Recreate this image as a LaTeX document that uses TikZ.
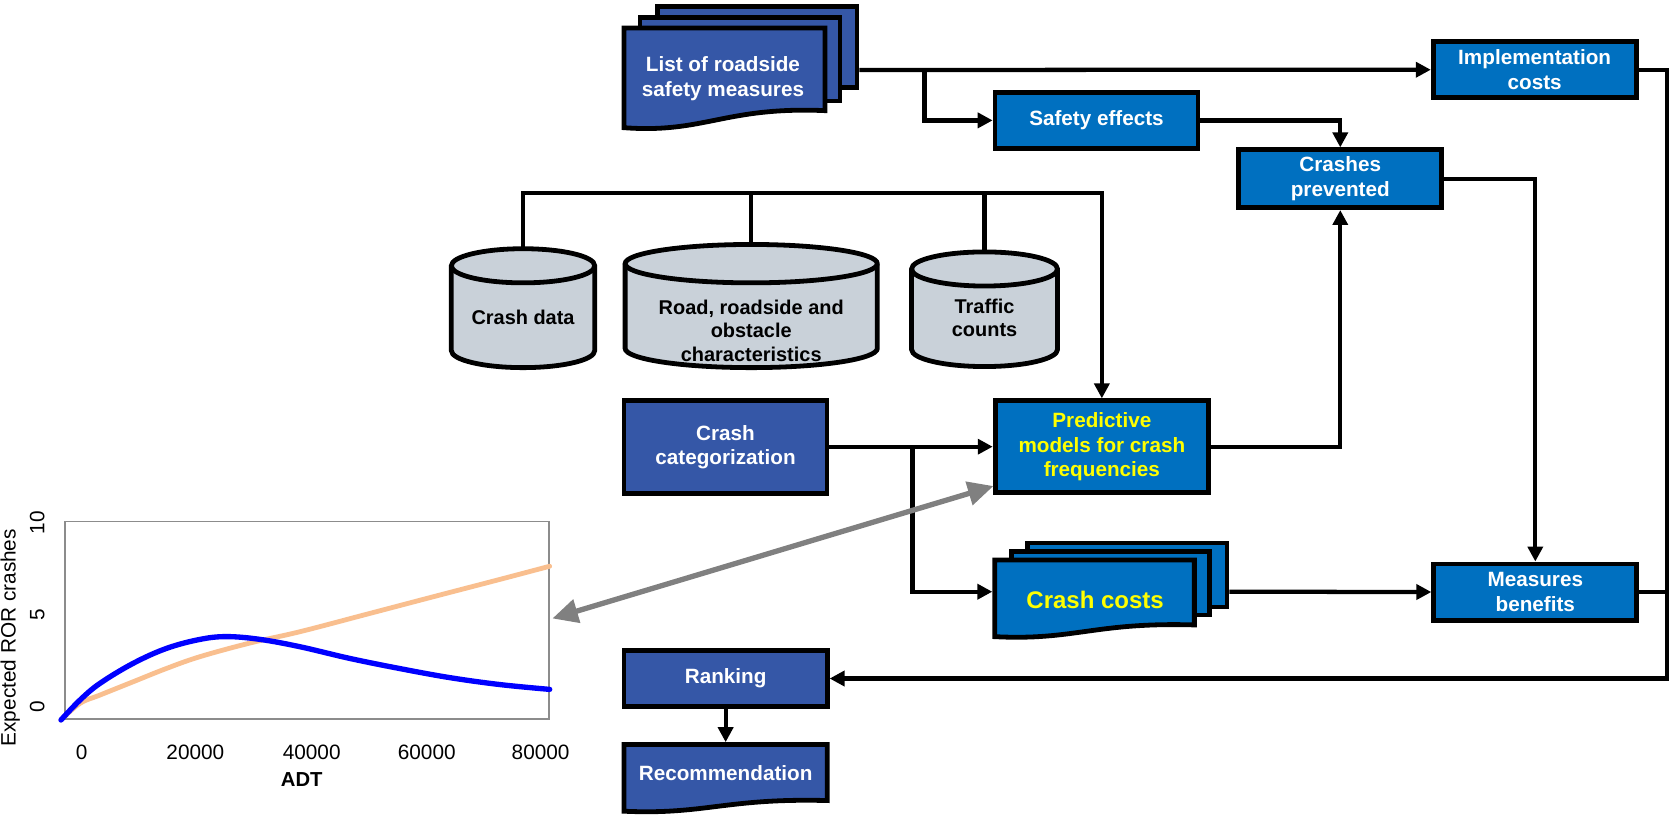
\documentclass[tikz,border=0pt]{standalone}
\usepackage{fontspec}
\setmainfont{Liberation Sans}
\usetikzlibrary{arrows.meta,calc}
\definecolor{db}{HTML}{3557A7}
\definecolor{lb}{HTML}{0070C0}
\definecolor{cylc}{HTML}{C9D1D9}
\definecolor{ylw}{HTML}{FFFF00}
\definecolor{org}{HTML}{F9BF8F}
\definecolor{gry}{HTML}{808080}
\definecolor{chartgray}{HTML}{8C8C8C}
\newcommand\boxfont{\bfseries\fontsize{19.4}{23.2}\selectfont}
\newcommand\cylfont{\bfseries\fontsize{18.7}{22}\selectfont}
\newcommand\lblfont{\fontsize{19.5}{22}\selectfont}
% document shape: fill, l, t, r, b, a (path coordinates)
\newcommand\docshape[6]{%
  \filldraw[shp, fill=#1] (#2,#3) -- (#4,#3) -- (#4,#5)
    .. controls ({#2+0.5*(#4-#2)},{#5-0.25*#6}) and ({#2+0.4*(#4-#2)},{#5+1.35*#6}) .. (#2,{#5+#6}) -- cycle;}
\newcommand\backsheet[5]{%
  \filldraw[shp, fill=#1] (#2,#3) rectangle (#4,#5);}
% cylinder: l, t, r, b, e (path coordinates)
\newcommand\cyl[5]{%
  \filldraw[shp, fill=cylc] (#1,{#2+#5}) -- (#1,{#4-#5})
    arc[start angle=180,end angle=0,x radius={(#3-#1)/2},y radius=#5]
    -- (#3,{#2+#5})
    arc[start angle=0,end angle=-180,x radius={(#3-#1)/2},y radius=#5] -- cycle;
  \draw[shp] (#1,{#2+#5}) arc[start angle=180,end angle=0,x radius={(#3-#1)/2},y radius=#5];}
\begin{document}
\begin{tikzpicture}[x=1pt,y=-1pt,
  shp/.style={line width=4.5pt, draw=black},
  bx/.style={shp, rectangle, inner sep=0pt, align=center, text=white, font=\boxfont},
  txt/.style={align=center, inner sep=0pt, font=\boxfont},
  cyltxt/.style={align=center, inner sep=0pt, font=\cylfont, text=black},
  lbl/.style={inner sep=0pt, font=\lblfont, text=black},
  conn/.style={line width=4pt, draw=black},
  arr/.style={-{Triangle[length=14pt,width=14pt]}},
  garr/.style={line width=5pt, draw=gry, {Triangle[length=24pt,width=22pt]}-{Triangle[length=24pt,width=22pt]}}]
\useasboundingbox (0,0) rectangle (1568,771);

% ---------- list of roadside safety measures (stack)
\backsheet{db}{616.25}{6}{803.75}{81.75}
\backsheet{db}{600.25}{16.25}{787.75}{94.75}
\docshape{db}{585.25}{26.25}{773.75}{103.75}{16}
\node[txt, text=white] (lst) at (678,73.5) {List of roadside\\safety measures};
\coordinate (lsr) at (806,65.6);
\coordinate (br1) at (867.1,65.6);

% ---------- rectangular boxes
\node[bx, fill=lb, minimum width=190.3pt, minimum height=52.4pt] (se) at (1028.3,112.9) {Safety effects};
\node[bx, fill=lb, minimum width=190.3pt, minimum height=52.7pt] (ic) at (1439.2,65.4) {Implementation\\costs};
\node[bx, fill=lb, minimum width=190.4pt, minimum height=54.3pt] (cp) at (1256.9,167.6) {Crashes\\prevented};
\node[bx, fill=db, minimum width=190.3pt, minimum height=87.7pt] (cc) at (680.4,419.3) {Crash\\categorization};
\node[bx, fill=lb, text=ylw, minimum width=200.2pt, minimum height=86.1pt] (pm) at (1033.3,418.9) {Predictive\\models for crash\\frequencies};
\node[bx, fill=lb, minimum width=190.5pt, minimum height=52.7pt] (mb) at (1439.8,555.2) {Measures\\benefits};
\node[bx, fill=db, minimum width=190.5pt, minimum height=52.5pt] (rk) at (680.5,636.3) {Ranking};

% ---------- cylinders
\cyl{423.25}{233.25}{557.75}{344.75}{16}
\cyl{586.25}{229.25}{822.75}{344.75}{18}
\cyl{854.85}{236.25}{991.75}{343.75}{16}
\node[cyltxt] (cd) at (490.5,298) {Crash data};
\node[cyltxt] (rd) at (704.5,310) {Road, roadside and\\obstacle\\characteristics};
\node[cyltxt] (tc) at (923.3,298) {Traffic\\counts};
\coordinate (cdt) at (490.5,233);
\coordinate (rdt) at (704.5,229);
\coordinate (tct) at (923.3,236);
\coordinate (bus) at (490.5,181);

% ---------- crash costs (stack)
\backsheet{lb}{963.55}{509.25}{1150.65}{569.15}
\backsheet{lb}{948.85}{517.45}{1134.05}{576.65}
\docshape{lb}{932.85}{525.25}{1120.05}{586.05}{11}
\node[txt, text=ylw, font=\bfseries\fontsize{22.5}{26}\selectfont] (ccs) at (1027,563) {Crash costs};
\coordinate (ccl) at (930.6,554.9);
\coordinate (ccr) at (1153,554.9);

% ---------- recommendation
\docshape{db}{585.25}{698.25}{775.75}{750.75}{10}
\node[txt, text=white] (rec) at (680.5,725) {Recommendation};
\coordinate (rect) at (680.5,696);

% ---------- connectors
\coordinate (rc) at (1563.5,636.3);
\coordinate (br2) at (855.7,418.9);
\draw[conn, arr] (lsr) -- (ic.west);
\draw[conn, arr] (br1) |- (se.west);
\draw[conn, arr] (se.east) -| (cp.north);
\draw[conn, arr] (cp.east) -| (mb.north);
\draw[conn, arr] (ic.east) -| (rc) -- (rk.east);
\draw[conn] (mb.east) -- (mb.east -| rc);
\draw[conn, arr] (cdt) |- (pm.north |- bus) -- (pm.north);
\draw[conn] (rdt) -- (rdt |- bus);
\draw[conn] (tct) -- (tct |- bus);
\draw[conn, arr] (cc.east |- br2) -- (pm.west);
\draw[conn, arr] (br2) |- (ccl);
\draw[conn, arr] (pm.east) -| (cp.south);
\draw[conn, arr] (ccr) -- (mb.west);
\draw[conn, arr] (rk.south) -- (rect);

% ---------- chart
\node[draw=chartgray, line width=1.5pt, fill=white, inner sep=0pt, minimum width=453.7pt, minimum height=185.2pt] (chart) at (287.9,581.65) {};
\draw[org, line width=4.5pt, line cap=round] plot[smooth, tension=0.6] coordinates {
  (57.2,675.2) (75,659.6) (93.8,651.8) (125,639.3) (156.3,626.8) (187.6,615.8)
  (234.5,603) (281.3,592.4) (344,576) (406.4,559.6) (469,543.3) (515.5,531)};
\draw[blue, line width=5pt, line cap=round] plot[smooth, tension=0.6] coordinates {
  (57.2,675.2) (75,656.5) (93.8,640.8) (125,622) (156.3,608) (187.6,599.6) (212.6,597)
  (243.8,599.6) (281.3,606.5) (328.2,617.5) (375.1,627) (422,635.5) (469,642) (515.5,646.5)};
\node[lbl, rotate=90] (y10) at (35,490) {10};
\node[lbl, rotate=90] (y5) at (35,576.8) {5};
\node[lbl, rotate=90] (y0) at (35,662.7) {0};
\node[lbl, rotate=90] (ytl) at (9.6,598) {Expected ROR crashes};
\node[lbl] (x0) at (76.6,706) {0};
\node[lbl] (x20) at (183.2,706) {20000};
\node[lbl] (x40) at (292.3,706) {40000};
\node[lbl] (x60) at (400.2,706) {60000};
\node[lbl] (x80) at (507,706) {80000};
\node[lbl, font=\bfseries\fontsize{19}{22}\selectfont] (adt) at (283,731.5) {ADT};
\coordinate (gA) at (518,580);
\coordinate (gB) at (931.7,455.8);
\draw[garr] (gA) -- (gB);
\end{tikzpicture}
\end{document}
